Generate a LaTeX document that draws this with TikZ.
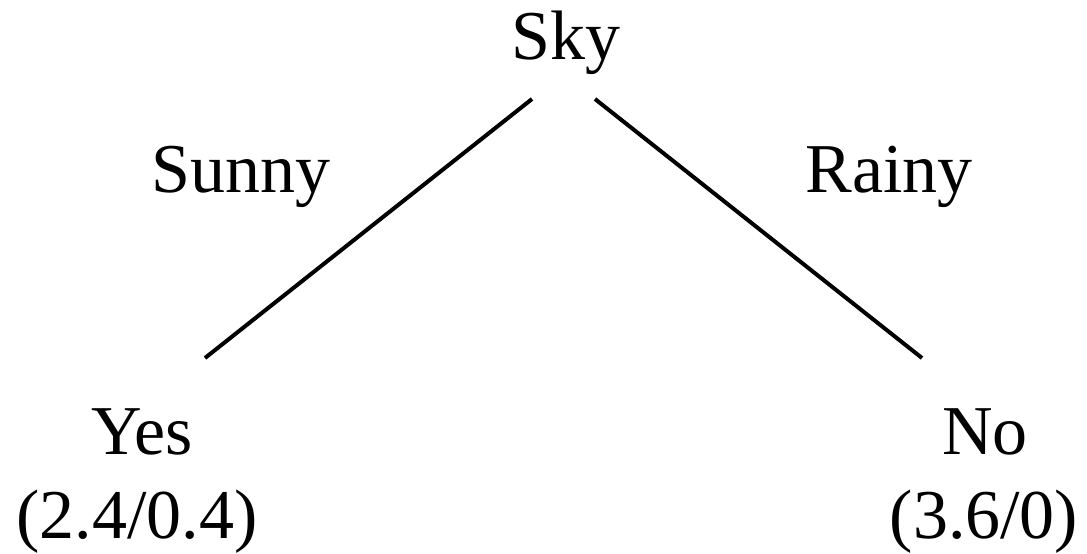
\documentclass[tikz,border=0pt]{standalone}
\usepackage{fontspec}
\setmainfont{Liberation Serif}
\usetikzlibrary{positioning}

\begin{document}
\begin{tikzpicture}[x=0.5pt,y=-0.5pt,
etiqueta/.style={anchor=base,inner sep=0pt,font=\fontsize{35}{42}\selectfont},
rama/.style={line width=2pt}
]
\useasboundingbox (0,0) rectangle (1087,553);

\node[etiqueta] (sky) at (566,59) {Sky};
\node[etiqueta] (sunny) at (241,192) {Sunny};
\node[etiqueta] (rainy) at (889,192) {Rainy};
\node[etiqueta] (yes) at (142,454) {Yes};
\node[etiqueta] (yesw) at (137,538) {(2.4/0.4)};
\node[etiqueta] (no) at (985,454) {No};
\node[etiqueta] (now) at (984,538) {(3.6/0)};

\coordinate (skyl) at (532,99);
\coordinate (skyr) at (595,99);
\coordinate (yest) at (205,358);
\coordinate (not) at (922,358);

\draw[rama] (skyl) -- (yest);
\draw[rama] (skyr) -- (not);
\end{tikzpicture}
\end{document}
